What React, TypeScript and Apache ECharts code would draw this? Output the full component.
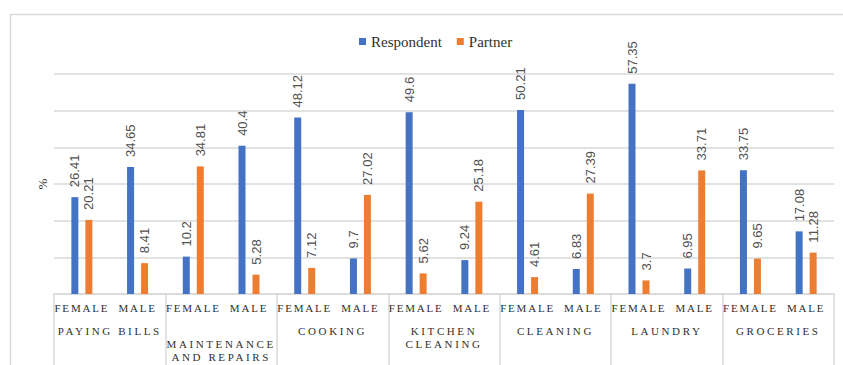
import React, { useEffect, useRef } from 'react';
import * as echarts from 'echarts';

const genders = ['FEMALE', 'MALE', 'FEMALE', 'MALE', 'FEMALE', 'MALE', 'FEMALE', 'MALE', 'FEMALE', 'MALE', 'FEMALE', 'MALE', 'FEMALE', 'MALE'];
const groups = ['PAYING BILLS', 'MAINTENANCE AND REPAIRS', 'COOKING', 'KITCHEN CLEANING', 'CLEANING', 'LAUNDRY', 'GROCERIES'];
const respondent = [26.41, 34.65, 10.2, 40.4, 48.12, 9.7, 49.6, 9.24, 50.21, 6.83, 57.35, 6.95, 33.75, 17.08];
const partner = [20.21, 8.41, 34.81, 5.28, 7.12, 27.02, 5.62, 25.18, 4.61, 27.39, 3.7, 33.71, 9.65, 11.28];

const GRID = '#d9d9d9';
const SERIF = '"Liberation Serif", "Times New Roman", serif';
const SANS = '"Liberation Sans", Arial, sans-serif';

function groupLabel(v: string): string {
  if (v === 'MAINTENANCE AND REPAIRS') return '\nMAINTENANCE\nAND REPAIRS';
  if (v === 'KITCHEN CLEANING') return 'KITCHEN\nCLEANING';
  return v;
}

export default function App() {
  const ref = useRef<HTMLDivElement>(null);
  useEffect(() => {
    if (!ref.current) return;
    const chart = echarts.init(ref.current, undefined, { renderer: 'svg' });
    const barLabel = {
      show: true,
      position: 'top',
      rotate: 90,
      align: 'left',
      verticalAlign: 'middle',
      distance: 10,
      fontFamily: SANS,
      fontSize: 13,
      color: '#505050',
    };
    chart.setOption({
      animation: false,
      backgroundColor: '#ffffff',
      graphic: [
        {
          type: 'rect',
          shape: { x: 10.5, y: 14.5, width: 860, height: 400 },
          style: { fill: 'none', stroke: GRID, lineWidth: 1.5 },
          silent: true,
        },
      ],
      legend: {
        left: 354,
        top: 29,
        itemWidth: 7,
        itemHeight: 7,
        itemGap: 15,
        icon: 'rect',
        textStyle: { fontFamily: SERIF, fontSize: 15, color: '#303030' },
        data: ['Respondent', 'Partner'],
      },
      grid: { left: 54, right: 9, top: 74, bottom: 71 },
      xAxis: [
        {
          type: 'category',
          data: genders,
          position: 'bottom',
          axisLine: { show: true, lineStyle: { color: GRID, width: 1.5 } },
          axisTick: { show: false },
          axisLabel: {
            interval: 0,
            margin: 8,
            fontFamily: SERIF,
            fontSize: 11,
            color: '#303030',
          },
        },
        {
          type: 'category',
          data: groups,
          position: 'bottom',
          axisLine: { show: false },
          axisTick: { show: true, interval: 0, length: 75, lineStyle: { color: GRID, width: 1.5 } },
          axisLabel: {
            interval: 0,
            margin: 30,
            fontFamily: SERIF,
            fontSize: 11,
            lineHeight: 13,
            color: '#303030',
            formatter: groupLabel,
          },
        },
      ],
      yAxis: {
        type: 'value',
        min: 0,
        max: 60,
        interval: 10,
        name: '%',
        nameLocation: 'middle',
        nameRotate: 90,
        nameGap: 5,
        nameTextStyle: { fontFamily: SERIF, fontSize: 13, color: '#303030' },
        axisLabel: { show: false },
        axisLine: { show: false },
        axisTick: { show: false },
        splitLine: { show: true, lineStyle: { color: GRID, width: 1.5 } },
      },
      series: [
        {
          name: 'Respondent',
          type: 'bar',
          data: respondent,
          barWidth: 7,
          barGap: '100%',
          itemStyle: { color: '#4472C4' },
          label: barLabel,
        },
        {
          name: 'Partner',
          type: 'bar',
          data: partner,
          barWidth: 7,
          barGap: '100%',
          itemStyle: { color: '#ED7D31' },
          label: barLabel,
        },
      ],
    });
    const spaceOut = () => {
      const texts = ref.current?.querySelectorAll('text') || [];
      texts.forEach((t) => {
        const s = (t.textContent || '').trim();
        if (/^[A-Z ]+$/.test(s)) {
          (t as SVGTextElement).style.letterSpacing = s === 'FEMALE' || s === 'MALE' ? '1.8px' : '2.6px';
        }
      });
    };
    spaceOut();
    chart.on('finished', spaceOut);
    return () => {
      chart.dispose();
    };
  }, []);
  return (
    <div
      ref={ref}
      style={{ position: 'fixed', left: 0, top: 0, width: 843, height: 365, background: '#fff' }}
    />
  );
}
